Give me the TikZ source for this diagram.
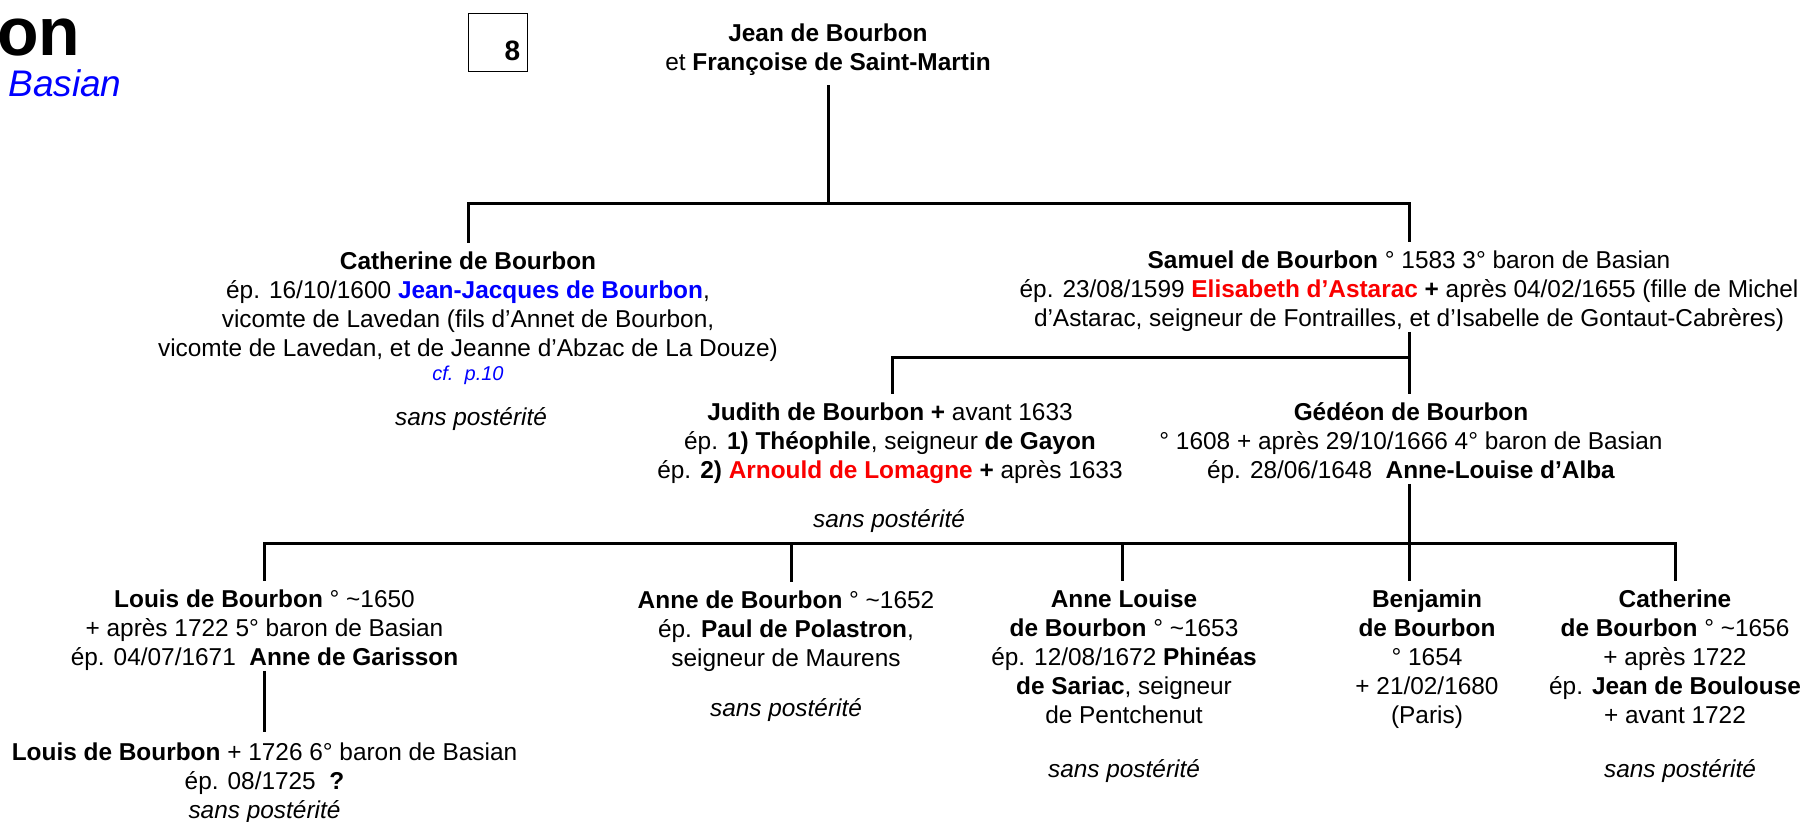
\documentclass[tikz,border=0pt]{standalone}
\usepackage{fontspec}
\setmainfont{Liberation Sans}
\usepackage{xcolor}
\usepackage{tikz}
\usetikzlibrary{
positioning,
calc
}
\definecolor{bsnblue}{RGB}{0,0,255}
\definecolor{bsnred}{RGB}{250,0,0}
\newcommand{\ca}{\textasciitilde}

\begin{document}
\begin{tikzpicture}[
  x=0.5pt, y=-0.5pt,
  tree/.style={line width=1.5pt, line cap=rect},
  drop/.style={line width=1.5pt, shorten >=3pt},
  person/.style={align=center, anchor=north, inner sep=0pt, font={\fontsize{12.2}{14.5}\selectfont}},
  nodesc/.style={anchor=base, inner sep=0pt, font={\fontsize{12.2}{14.5}\selectfont\itshape}}
]
\useasboundingbox (0,0) rectangle (1805,821);

% Heading
\node[anchor=base west, inner sep=0pt, font={\fontsize{34}{34}\selectfont\bfseries}] (ttl) at (-3,55) {on};
\node[anchor=base west, inner sep=0pt, font={\fontsize{18.5}{18.5}\selectfont\itshape}, bsnblue] (sub) at (8,96) {Basian};
\node[draw, line width=0.5pt, minimum width=29.5pt, minimum height=29.2pt, anchor=north west, inner sep=0pt] (pg) at (468,13) {};
\node[anchor=base, inner sep=0pt, font={\fontsize{14}{14}\selectfont\bfseries}] (pgn) at (512.5,60) {8};

% Parents
\node[person] (jb) at (828,20.5) {\strut\textbf{Jean de Bourbon}\\ et \textbf{Françoise de Saint-Martin}};

% Level 1
\node[person] (cb) at (468,249) {\strut\textbf{Catherine de Bourbon}\\ ép. 16/10/1600 \textcolor{bsnblue}{\textbf{Jean-Jacques de Bourbon}},\\ vicomte de Lavedan (fils d’Annet de Bourbon,\\ vicomte de Lavedan, et de Jeanne d’Abzac de La Douze)\\[-2.5pt] {\fontsize{10}{12}\selectfont\itshape\color{bsnblue}cf.\ \ p.10}};
\node[nodesc] (cbs) at (471,425) {sans postérité};
\node[person] (sb) at (1409,247.7) {\strut\textbf{Samuel de Bourbon} ° 1583 3° baron de Basian\\ ép. 23/08/1599 \textcolor{bsnred}{\textbf{Elisabeth d’Astarac}} \textbf{+} après 04/02/1655 (fille de Michel\\ d’Astarac, seigneur de Fontrailles, et d’Isabelle de Gontaut-Cabrères)};

\coordinate (b1w) at (468,203);
\coordinate (b1e) at (1409,203);
\draw[tree] ([yshift=-5.5pt]jb.south) -- (jb.south |- b1w);
\draw[tree] (b1w) -- (b1e);
\draw[drop] (b1w) -- (b1w |- cb.north);
\draw[drop] (b1e) -- (b1e |- sb.north);

% Level 2
\node[person] (jd) at (890,399.7) {\strut\textbf{Judith de Bourbon} \textbf{+} avant 1633\\ ép. \textbf{1) Théophile}, seigneur \textbf{de Gayon}\\ ép. \textbf{2)} \textcolor{bsnred}{\textbf{Arnould de Lomagne}} \textbf{+} après 1633};
\node[nodesc] (jds) at (889,527) {sans postérité};
\node[person] (gb) at (1411,399.7) {\strut\textbf{Gédéon de Bourbon}\\ ° 1608 + après 29/10/1666 4° baron de Basian\\ ép. 28/06/1648\ \ \textbf{Anne-Louise d’Alba}};

\coordinate (b2w) at (892,357);
\coordinate (b2e) at (1409,357);
\draw[tree] (b2w) -- (b2e);
\draw[drop] (b2e |- sb.south) -- (b2e |- gb.north);
\draw[drop] (b2w) -- (b2w |- jd.north);

% Level 3
\node[person] (lb) at (264.5,586.7) {\strut\textbf{Louis de Bourbon} ° \ca1650\\ + après 1722 5° baron de Basian\\ ép. 04/07/1671\ \ \textbf{Anne de Garisson}};
\node[person] (ab) at (786,588) {\strut\textbf{Anne de Bourbon} ° \ca1652\\ ép. \textbf{Paul de Polastron},\\ seigneur de Maurens};
\node[nodesc] (abs) at (786,716) {sans postérité};
\node[person] (al) at (1124,586.7) {\strut\textbf{Anne Louise}\\ \textbf{de Bourbon} ° \ca1653\\ ép. 12/08/1672 \textbf{Phinéas}\\ \textbf{de Sariac}, seigneur\\ de Pentchenut};
\node[nodesc] (als) at (1124,777) {sans postérité};
\node[person] (bj) at (1427,586.7) {\strut\textbf{Benjamin}\\ \textbf{de Bourbon}\\ ° 1654\\ + 21/02/1680\\ (Paris)};
\node[person] (cc) at (1675,586.7) {\strut\textbf{Catherine}\\ \textbf{de Bourbon} ° \ca1656\\ + après 1722\\ ép. \textbf{Jean de Boulouse}\\ + avant 1722};
\node[nodesc] (ccs) at (1680,777) {sans postérité};

\coordinate (b3w) at (264.5,543.5);
\coordinate (b3a) at (791,543.5);
\coordinate (b3b) at (1122,543.5);
\coordinate (b3c) at (1409,543.5);
\coordinate (b3e) at (1675,543.5);
\draw[tree] (b3w) -- (b3e);
\draw[drop] (b3c |- gb.south) -- (b3c |- bj.north);
\foreach \c/\n in {b3w/lb, b3a/ab, b3b/al, b3e/cc}
  \draw[drop] (\c) -- (\c |- \n.north);

% Level 4
\node[person] (lj) at (264.5,739.7) {\strut\textbf{Louis de Bourbon} + 1726 6° baron de Basian\\ ép. 08/1725\ \ \textbf{?}\\ \textit{sans postérité}};
\draw[drop, shorten >=4pt] (lb.south) -- (lj.north);

\end{tikzpicture}
\end{document}
